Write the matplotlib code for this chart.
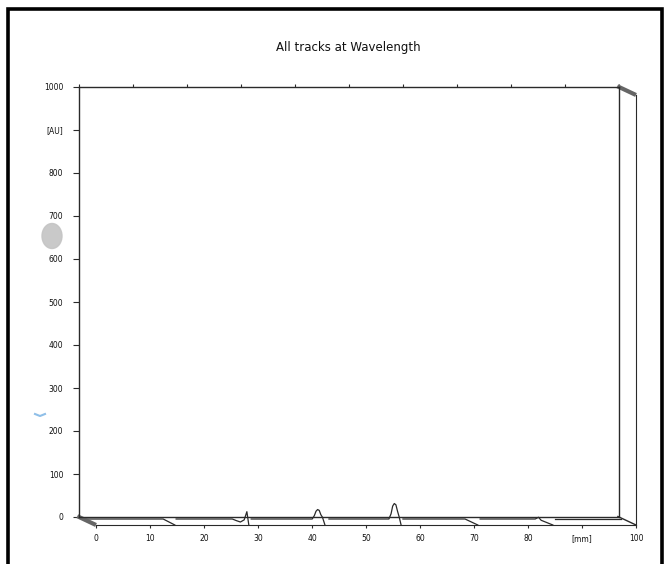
import matplotlib
matplotlib.use("Agg")
import matplotlib.pyplot as plt
from matplotlib.patches import Ellipse

# ---- data ----
au_ticks = [0, 100, 200, 300, 400, 500, 600, 700, 800, 900, 1000]
au_labels = ["0", "100", "200", "300", "400", "500", "600", "700", "800", "[AU]", "1000"]
mm_ticks = [0, 10, 20, 30, 40, 50, 60, 70, 80, 90, 100]
mm_labels = ["0", "10", "20", "30", "40", "50", "60", "70", "80", "[mm]", "100"]

# each track: position [mm], signal [AU], depth (0 = back plane, 1 = front plane)
track1_mm = [0.0, 14.8, 14.6]
track1_au = [0, 0, 0]
track1_d = [0.25, 0.25, 1.0]

track2_mm = [17.2, 27.6, 28.4, 29.1, 29.8, 30.3, 28.3]
track2_au = [0, 0, -4, -7, -2, 17, 0]
track2_d = [0.25, 0.25, 0.25, 0.25, 0.25, 0.25, 1.0]

track3_mm = [31.1, 42.4, 42.8, 43.1, 43.4, 43.7, 44.0, 44.3, 42.4]
track3_au = [0, 0, 8, 18, 22, 20, 10, 4, 0]
track3_d = [0.25, 0.25, 0.25, 0.25, 0.25, 0.25, 0.25, 0.25, 1.0]

track4_mm = [45.5, 56.6, 57.0, 57.3, 57.6, 57.9, 58.2, 58.5, 56.5]
track4_au = [0, 0, 12, 30, 36, 33, 18, 5, 0]
track4_d = [0.25, 0.25, 0.25, 0.25, 0.25, 0.25, 0.25, 0.25, 1.0]

track5_mm = [59.2, 70.7, 70.7]
track5_au = [0, 0, 0]
track5_d = [0.25, 0.25, 1.0]

track6_mm = [73.5, 83.7, 84.3, 84.8, 84.6]
track6_au = [0, 0, 4, -3, 0]
track6_d = [0.25, 0.25, 0.25, 0.25, 1.0]

track7_mm = [87.4, 99.5]
track7_au = [0, 0]
track7_d = [0.25, 0.25]

tracks = [
    (track1_mm, track1_au, track1_d),
    (track2_mm, track2_au, track2_d),
    (track3_mm, track3_au, track3_d),
    (track4_mm, track4_au, track4_d),
    (track5_mm, track5_au, track5_d),
    (track6_mm, track6_au, track6_d),
    (track7_mm, track7_au, track7_d),
]

# ---- layout (pixels) ----
W, H = 668, 564
BX0, BX1, BY0, BY1 = 79, 619, 87, 517   # back plane box
DX_PX, DY_PX = 17, 8                    # depth offset of front plane
LINE = "#2a2a2a"
TXT = "#111111"

plt.rcParams["font.family"] = ["Liberation Sans Narrow", "DejaVu Sans"]

fig = plt.figure(figsize=(W / 100, H / 100), dpi=100)

# outer frame
frame = fig.add_axes([0, 0, 1, 1])
frame.set_xlim(0, W)
frame.set_ylim(H, 0)
frame.axis("off")
frame.plot([8, 8, 662, 662], [566, 9, 9, 566], color="black", lw=2.6,
           solid_joinstyle="miter")
frame.add_patch(Ellipse((52, 236), 20, 25, color="#c4c4c4", alpha=0.9))
frame.plot([35, 40, 45], [414, 416, 414], color="#8fbfe8", lw=1.5)

# back plane
ax = fig.add_axes([BX0 / W, (H - BY1) / H, (BX1 - BX0) / W, (BY1 - BY0) / H])
ax.set_xlim(0, 100)
ax.set_ylim(0, 1000)
ax.patch.set_alpha(0)
for s in ax.spines.values():
    s.set_color(LINE)
    s.set_linewidth(1.0)
ax.set_yticks(au_ticks)
ax.set_yticklabels(au_labels)
ax.tick_params(axis="y", direction="out", length=4.3, width=0.8, pad=7,
               labelsize=5.5, colors=LINE, labelcolor=TXT)
ax.xaxis.set_ticks_position("top")
ax.set_xticks(mm_ticks)
ax.tick_params(axis="x", direction="out", length=2.5, width=0.8,
               labeltop=False, colors=LINE)

# front plane
fx = fig.add_axes([(BX0 + DX_PX) / W, (H - BY1 - DY_PX) / H,
                   (BX1 - BX0) / W, (BY1 - BY0) / H])
fx.set_xlim(0, 100)
fx.set_ylim(0, 1000)
fx.patch.set_alpha(0)
fx.spines["top"].set_visible(False)
fx.spines["left"].set_visible(False)
fx.spines["bottom"].set_color(LINE)
fx.spines["right"].set_color(LINE)
fx.set_yticks([])
fx.set_xticks(mm_ticks)
fx.set_xticklabels(mm_labels)
fx.tick_params(axis="x", direction="out", length=2.5, width=0.8, pad=4,
               labelsize=5.5, colors=LINE, labelcolor=TXT)

# depth offset in back-plane data units
dx_mm = DX_PX / (BX1 - BX0) * 100
dy_au = DY_PX / (BY1 - BY0) * 1000


def to_back(mm, au, d):
    return ([m + dx_mm * k for m, k in zip(mm, d)],
            [a - dy_au * k for a, k in zip(au, d)])


for mm, au, d in tracks:
    xs, ys = to_back(mm, au, d)
    ax.plot(xs, ys, color=LINE, lw=0.9, clip_on=False)

# depth edges at the corners
for mm, au, lw, col in [([0, 0], [0, 0], 3.0, "#666666"),
                        ([100, 100], [1000, 1000], 3.0, "#666666"),
                        ([100, 100], [0, 0], 1.0, LINE)]:
    xs, ys = to_back(mm, au, [-0.1, 1.0])
    ax.plot(xs, ys, color=col, lw=lw, clip_on=False, solid_capstyle="butt")

fig.text(348 / W, 1 - 48 / H, "All tracks at Wavelength", ha="center",
         va="center", fontsize=8.5, color=TXT)

fig.savefig("out.png", dpi=100)
